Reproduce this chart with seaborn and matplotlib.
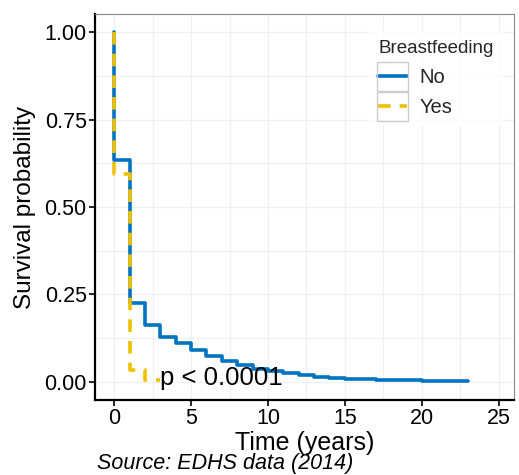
import matplotlib
matplotlib.use("Agg")
import matplotlib.pyplot as plt
from matplotlib.patches import Rectangle
from matplotlib.transforms import IdentityTransform
from matplotlib.ticker import MultipleLocator
import seaborn as sns
import pandas as pd

# ---- data ----
groups = ["No", "Yes"]
no_time = [0, 0, 1, 2, 3, 4, 5, 6, 7, 8, 9, 10, 11, 12, 13, 14, 15, 17, 20, 23]
no_surv = [1.0, 0.634, 0.225, 0.162, 0.129, 0.110, 0.091, 0.073, 0.059, 0.048,
           0.038, 0.031, 0.026, 0.019, 0.014, 0.010, 0.007, 0.004, 0.002, 0.002]
yes_time = [0, 0, 1, 2, 3]
yes_surv = [1.0, 0.594, 0.033, 0.004, 0.004]
x_ticks = [0, 5, 10, 15, 20, 25]
y_ticks = [0.00, 0.25, 0.50, 0.75, 1.00]
y_tick_labels = ["0.00", "0.25", "0.50", "0.75", "1.00"]
pval_text = "p < 0.0001"
source_text = "Source: EDHS data (2014)"
colors = {"No": "#0073C2", "Yes": "#EFC000"}

df = pd.DataFrame({
    "time": no_time + yes_time,
    "surv": no_surv + yes_surv,
    "Breastfeeding": ["No"] * len(no_time) + ["Yes"] * len(yes_time),
})

sns.set_theme(style="white")
plt.rcParams["font.family"] = ["Liberation Sans", "DejaVu Sans"]

W, H = 519, 475
fig = plt.figure(figsize=(W / 100, H / 100), dpi=100)
ax = fig.add_axes([95 / W, 1 - 400 / H, (514 - 95) / W, (400 - 14) / H])

sns.lineplot(data=df, x="time", y="surv", hue="Breastfeeding", style="Breastfeeding",
             hue_order=groups, style_order=groups, palette=colors,
             dashes={"No": "", "Yes": (3.5, 2.5)}, drawstyle="steps-post",
             estimator=None, sort=False, linewidth=2.6, ax=ax, legend=True)

ax.set_xlim(-1.25, 26.0)
ax.set_ylim(-0.052, 1.052)
ax.set_xticks(x_ticks)
ax.set_yticks(y_ticks)
ax.set_yticklabels(y_tick_labels)
ax.xaxis.set_minor_locator(MultipleLocator(2.5))
ax.yaxis.set_minor_locator(MultipleLocator(0.125))
ax.grid(True, which="both", color="#F0F0F0", linewidth=0.9)
ax.set_axisbelow(True)
ax.tick_params(axis="both", which="major", direction="out", length=4, width=1.2,
               color="black", labelsize=15.5, labelcolor="black", pad=2,
               bottom=True, left=True)
ax.tick_params(which="minor", length=0)
for side in ["top", "right"]:
    ax.spines[side].set_color("#888888")
    ax.spines[side].set_linewidth(0.8)
for side in ["left", "bottom"]:
    ax.spines[side].set_color("black")
    ax.spines[side].set_linewidth(1.6)

ax.set_xlabel("Time (years)", fontsize=18, color="black", labelpad=1)
ax.set_ylabel("Survival probability", fontsize=17.5, color="black", labelpad=6)

ax.text(3.0, -0.009, pval_text, fontsize=18.5, color="black", va="baseline", ha="left")
fig.text(97 / W, 1 - 464 / H, source_text, fontsize=15.5, style="italic",
         color="black", va="center", ha="left")

leg = ax.legend(title="Breastfeeding", loc="upper left",
                bbox_to_anchor=(359 / W, 1 - 21 / H), bbox_transform=fig.transFigure,
                frameon=True, facecolor="white", edgecolor="none", fancybox=False,
                fontsize=14.5, title_fontsize=13.5, handlelength=1.45,
                handletextpad=0.6, labelspacing=0.55, borderpad=0.45,
                alignment="left")
for line in leg.get_lines():
    line.set_linewidth(2.6)

fig.canvas.draw()
renderer = fig.canvas.get_renderer()
for line in leg.get_lines():
    bb = line.get_window_extent(renderer)
    cx = (bb.x0 + bb.x1) / 2
    cy = (bb.y0 + bb.y1) / 2
    fig.patches.append(Rectangle((cx - 15.5, cy - 14.5), 31, 29, fill=False,
                                 edgecolor="#CCCCCC", linewidth=1.0,
                                 transform=IdentityTransform(), figure=fig, zorder=10))

fig.savefig("out.png", dpi=100, facecolor="white")
